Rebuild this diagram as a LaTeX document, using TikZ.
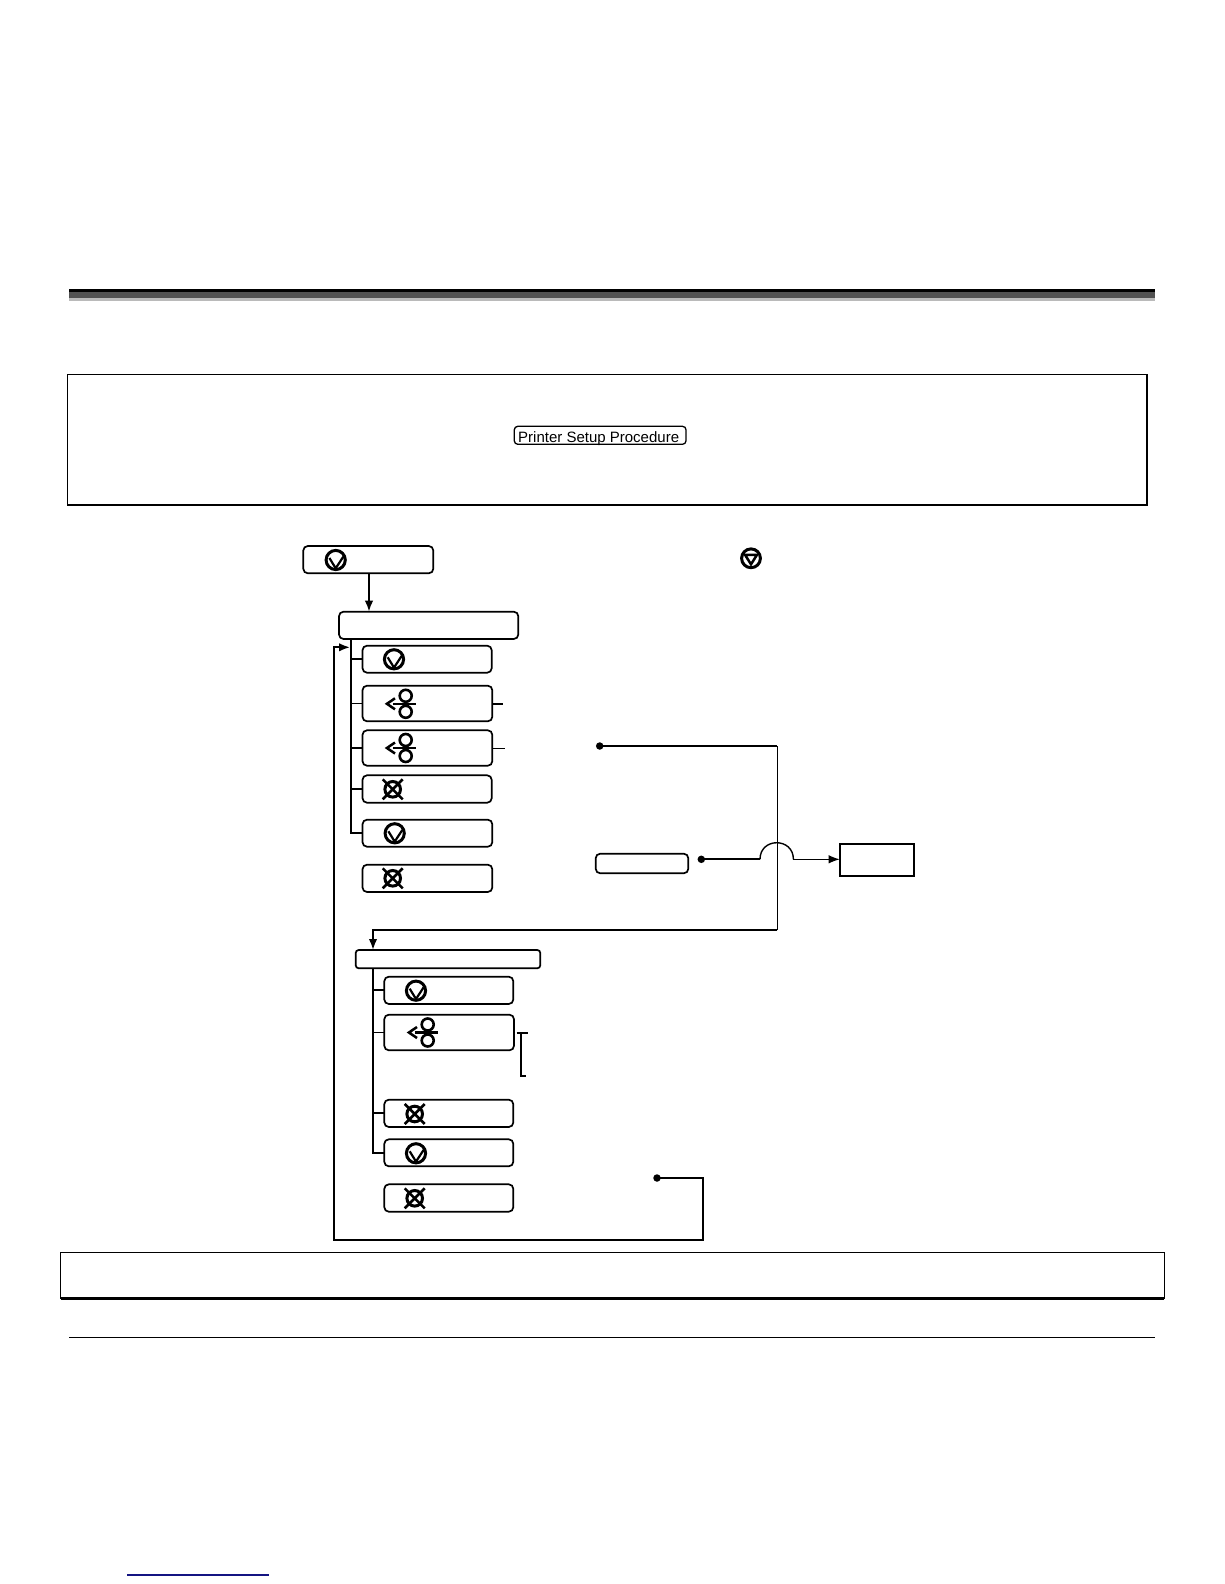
\documentclass[tikz,border=0pt]{standalone}
\usepackage{fontspec}
\setmainfont{Liberation Sans}
\usetikzlibrary{arrows.meta}
\tikzset{
  heavy/.style={line width=1.9pt},
  thin line/.style={line width=1.1pt},
  rbox/.style={draw=black,line width=1.7pt,rounded corners=4.5pt,inner sep=0pt,outer sep=0pt,fill=white},
  sbox/.style={draw=black,line width=1.9pt,inner sep=0pt,outer sep=0pt},
  dotn/.style={circle,fill=black,inner sep=0pt,minimum size=7.5pt,outer sep=0pt},
  tip/.style={-{Latex[length=11pt,width=8.5pt]}},
  glyph/.style={line width=3pt,draw=black}
}
\newcommand{\bx}[6]{%
  \pgfmathsetmacro{\cxx}{(#3+#5)/2}\pgfmathsetmacro{\cyy}{(#4+#6)/2}%
  \pgfmathsetmacro{\www}{#5-#3}\pgfmathsetmacro{\hhh}{#6-#4}%
  \node[#1,minimum width=\www pt,minimum height=\hhh pt] (#2) at (\cxx,\cyy) {};}
\newcommand{\iconV}[2]{\begin{scope}[shift={(#1,#2)}]
  \draw[glyph] (0,0) circle (9.6pt);
  \draw[line width=2.2pt,line join=miter] (-6.3,-2) -- (0,8.3) -- (7.6,-3.3);
  \end{scope}}
\newcommand{\iconT}[2]{\begin{scope}[shift={(#1,#2)}]
  \draw[glyph] (0,0) circle (9.4pt);
  \draw[line width=2.5pt,line join=miter] (-6,-3.5) -- (6,-3.5) -- (0,6) -- cycle;
  \end{scope}}
\newcommand{\iconX}[2]{\begin{scope}[shift={(#1,#2)}]
  \draw[glyph] (0,0) circle (7.8pt);
  \draw[line width=2.6pt] (-10,-10) -- (10,10) (-10,10) -- (10,-10);
  \end{scope}}
\newcommand{\iconR}[2]{\begin{scope}[shift={(#1,#2)}]
  \draw[line width=2.6pt] (0,-8) circle (6pt) (0,8) circle (6pt);
  \draw[line width=2.4pt] (-12.7,0) -- (10.3,0);
  \draw[line width=2.5pt] (-10.7,-5.5) -- (-18.8,0) -- (-10.7,5.5);
  \end{scope}}
\begin{document}
\begin{tikzpicture}[x=1pt,y=-1pt]
\useasboundingbox (0,0) rectangle (1224,1584);
% header rule
\fill[black] (69,289) rectangle (1155,292.3);
\fill[black!68] (69,292.3) rectangle (1155,297.7);
\fill[black!27] (69,297.7) rectangle (1155,301);
% panels
\bx{sbox,line width=1.5pt}{panelTop}{67.5}{374.5}{1147}{505}
\bx{rbox,line width=1.3pt,rounded corners=3.5pt}{mini}{514.3}{426.3}{686}{444.3}
\node[inner sep=0pt,anchor=base west,font=\fontsize{15}{16}\selectfont] (minitxt) at (518,442.4) {Printer Setup Procedure};
\bx{sbox,line width=1.5pt}{panelBot}{60.5}{1252.5}{1164.4}{1298.5}
\draw[line width=2.6pt] (panelBot.south west) -- (panelBot.south east);
\coordinate (ruleL) at (69,1337.3); \coordinate (ruleR) at (1155,1337.3);
\draw[line width=1.1pt] (ruleL) -- (ruleR);
\coordinate (linkL) at (127,1575); \coordinate (linkR) at (269,1575);
\draw[line width=1.2pt,draw={rgb,255:red,20;green,20;blue,130}] (linkL) -- (linkR);
% boxes
\bx{rbox}{a}{303.3}{546}{433.3}{573.3}
\bx{rbox}{b}{339}{611.7}{518.3}{639}
\bx{rbox}{c1}{362.5}{645.7}{491.7}{672.7}
\bx{rbox}{c2}{362.5}{685.7}{492.3}{721.3}
\bx{rbox}{c3}{362.5}{730.3}{492.3}{765.7}
\bx{rbox}{c4}{362.5}{775.3}{491.7}{802.7}
\bx{rbox}{c5}{362.5}{819.7}{492.3}{846.7}
\bx{rbox}{c6}{362.5}{864.7}{492.3}{892}
\bx{rbox}{f}{595.7}{853.7}{688.3}{873.3}
\bx{sbox}{g}{839.7}{843.7}{914.3}{876}
\bx{rbox,rounded corners=3pt}{d}{355.7}{950}{540.3}{968.3}
\bx{rbox}{e1}{384.3}{976.7}{513.3}{1004}
\bx{rbox}{e2}{384.3}{1014.7}{514}{1050.3}
\bx{rbox}{e3}{384.3}{1099.7}{513.3}{1127}
\bx{rbox}{e4}{384.3}{1139.3}{513.3}{1166.3}
\bx{rbox}{e5}{384.3}{1184.3}{513.3}{1211.7}
% dots and waypoints
\node[dotn] (d1) at (599.7,746) {};
\node[dotn] (d2) at (701.3,859.3) {};
\node[dotn] (d3) at (657,1178) {};
\coordinate (t1) at (351,639);
\coordinate (t2) at (373,969);
\coordinate (ret) at (334,647.3);
\coordinate (retTip) at (350,647.3);
\coordinate (cor1) at (777.3,746);
\coordinate (cor2) at (777.3,929.7);
\coordinate (jl) at (760,859.3);
\coordinate (jr) at (793.4,859.3);
% connectors
\draw[heavy,tip] (a.south -| 369,0) -- (b.north -| 369,0);
\draw[heavy] (t1) -- (t1 |- c5.west) -- (c5.west);
\foreach \n in {c1,c2,c4}{\draw[heavy] (t1 |- \n.west) -- (\n.west);}
\draw[thin line] (t1 |- c3.west) -- (c3.west);
\coordinate (s2) at (502.7,703.6); \coordinate (s3) at (505,748.2);
\draw[heavy] (c2.east |- s2) -- (s2);
\draw[thin line] (c3.east |- s3) -- (s3);
\draw[heavy] (d1.center) -- (cor1);
\draw[thin line] (cor1) -- (cor2);
\draw[heavy,tip] (cor2) -- (cor2 -| t2) -- (d.north -| t2);
\draw[heavy] (d2.center) -- (jl);
\draw[line width=1.4pt] (jl) .. controls (760,837.2) and (793.4,837.2) .. (jr);
\draw[thin line,tip] (jr) -- (jr -| g.west);
\draw[heavy] (t2) -- (t2 |- e4.west) -- (e4.west);
\foreach \n in {e1,e2,e3}{\draw[heavy] (t2 |- \n.west) -- (\n.west);}
\coordinate (bt1) at (516.7,1033); \coordinate (bt2) at (527.7,1033);
\coordinate (bv1) at (521,1033); \coordinate (bv2) at (521,1076.3); \coordinate (bb) at (525.7,1076.3);
\draw[heavy] (bt1) -- (bt2);
\draw[heavy] (bv1) -- (bv2) -- (bb);
\draw[heavy,tip] (d3.center) -- (703,1178) -- (703,1239.7) -- (334,1239.7) -- (ret) -- (retTip);
% glyphs
\iconV{335.7}{560}
\iconT{751}{558.3}
\iconV{394}{659.3}
\iconR{405.7}{703.8}
\iconR{405.7}{748}
\iconX{392.7}{789.3}
\iconV{394.7}{833.3}
\iconX{392.7}{878.3}
\iconV{416}{990.7}
\iconR{427.7}{1032.5}
\iconX{414.7}{1114}
\iconV{416}{1153.3}
\iconX{414.7}{1198.3}
\end{tikzpicture}
\end{document}
